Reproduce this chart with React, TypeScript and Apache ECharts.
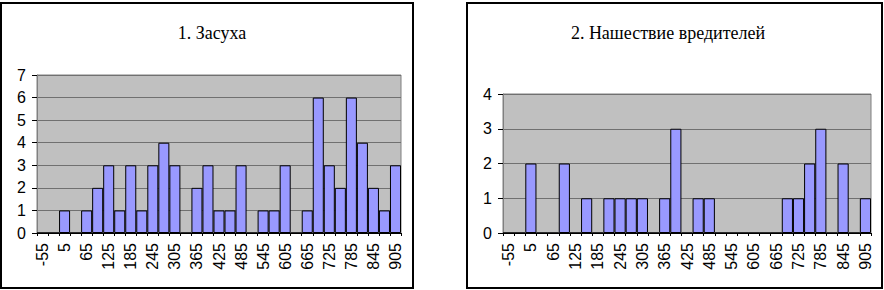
import React, { useEffect, useRef } from "react";
import * as echarts from "echarts";

const categories = [
  "-55", "-25", "5", "35", "65", "95", "125", "155", "185", "215", "245",
  "275", "305", "335", "365", "395", "425", "455", "485", "515", "545",
  "575", "605", "635", "665", "695", "725", "755", "785", "815", "845",
  "875", "905",
];
const droughtValues = [
  0, 0, 1, 0, 1, 2, 3, 1, 3, 1, 3, 4, 3, 0, 2, 3, 1, 1, 3, 0, 1, 1, 3, 0, 1,
  6, 3, 2, 6, 4, 2, 1, 3,
];
const pestValues = [
  0, 0, 2, 0, 0, 2, 0, 1, 0, 1, 1, 1, 1, 0, 1, 3, 0, 1, 1, 0, 0, 0, 0, 0, 0,
  1, 1, 2, 3, 0, 2, 0, 1,
];
const titles = ["1. Засуха", "2. Нашествие вредителей"];
const yMax = [7, 4];

export default function App() {
  const ref = useRef<HTMLDivElement>(null);
  useEffect(() => {
    document.body.style.margin = "0";
    const chart = echarts.init(ref.current!, undefined, { renderer: "svg" });
    const sans = "Liberation Sans, Arial, sans-serif";
    const serif = "Liberation Serif, Times New Roman, serif";
    const grids = [
      { left: 37, top: 75, width: 364, height: 158 },
      { left: 503, top: 94, width: 368, height: 139 },
    ];
    const xAxis = grids.map((_, i) => ({
      type: "category" as const,
      gridIndex: i,
      data: categories,
      boundaryGap: true,
      axisLine: { show: true, lineStyle: { color: "#000", width: 1 } },
      axisTick: { show: true, interval: 0, length: 3, lineStyle: { color: "#000" } },
      axisLabel: {
        interval: 1,
        rotate: 90,
        margin: 10,
        color: "#000",
        fontFamily: sans,
        fontSize: 16,
      },
      splitLine: { show: false },
    }));
    const yAxis = grids.map((_, i) => ({
      type: "value" as const,
      gridIndex: i,
      min: 0,
      max: yMax[i],
      interval: 1,
      axisLine: { show: true, lineStyle: { color: "#808080" } },
      axisTick: { show: true, length: 5, lineStyle: { color: "#000" } },
      axisLabel: {
        margin: 11,
        color: "#000",
        fontFamily: sans,
        fontSize: 16,
      },
      splitLine: { show: true, lineStyle: { color: "#707070", width: 1 } },
    }));
    const seriesData = [droughtValues, pestValues];
    chart.setOption({
      animation: false,
      grid: grids.map((g) => ({
        ...g,
        show: true,
        backgroundColor: "#C0C0C0",
        borderColor: "#808080",
        borderWidth: 1,
        containLabel: false,
      })),
      xAxis,
      yAxis,
      series: seriesData.map((d, i) => ({
        type: "bar",
        xAxisIndex: i,
        yAxisIndex: i,
        data: d,
        barCategoryGap: "0%",
        itemStyle: { color: "#9999FF", borderColor: "#000", borderWidth: 1 },
      })),
      graphic: [
        {
          type: "rect",
          shape: { x: 1, y: 3, width: 412, height: 285 },
          style: { fill: "none", stroke: "#000", lineWidth: 2 },
          silent: true,
        },
        {
          type: "rect",
          shape: { x: 467, y: 3, width: 415, height: 285 },
          style: { fill: "none", stroke: "#000", lineWidth: 2 },
          silent: true,
        },
        {
          type: "text",
          x: 212,
          y: 33,
          style: {
            text: titles[0],
            fill: "#000",
            font: `18px ${serif}`,
            align: "center",
            verticalAlign: "middle",
            textAlign: "center",
            textVerticalAlign: "middle",
          },
        },
        {
          type: "text",
          x: 668,
          y: 33,
          style: {
            text: titles[1],
            fill: "#000",
            font: `18px ${serif}`,
            align: "center",
            verticalAlign: "middle",
            textAlign: "center",
            textVerticalAlign: "middle",
          },
        },
      ],
    });
    return () => chart.dispose();
  }, []);
  return <div ref={ref} style={{ width: 884, height: 290 }} />;
}
